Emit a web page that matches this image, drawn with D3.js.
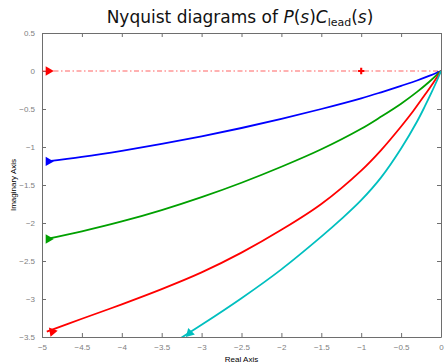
<!DOCTYPE html>
<html>
<head>
<meta charset="utf-8">
<script src="https://cdn.jsdelivr.net/npm/d3@7"></script>
<style>
  body { margin: 0; background: #fff; }
  svg { display: block; }
</style>
</head>
<body>
<div id="main-container"></div>
<script>
// Data: [real, imaginary]
const BLUE = [[0, 0], [-0.15, -0.065], [-0.3, -0.125], [-0.5, -0.195], [-0.75, -0.28], [-1, -0.36], [-1.5, -0.5], [-2, -0.63], [-2.5, -0.75], [-3, -0.86], [-3.5, -0.96], [-4, -1.05], [-4.5, -1.13], [-4.94, -1.19]];
const GREEN = [[0, 0], [-0.15, -0.145], [-0.3, -0.275], [-0.5, -0.43], [-0.75, -0.6], [-1, -0.76], [-1.5, -1.03], [-2, -1.26], [-2.5, -1.47], [-3, -1.66], [-3.5, -1.83], [-4, -1.98], [-4.5, -2.11], [-4.94, -2.21]];
const RED = [[0, 0], [-0.1, -0.16], [-0.2, -0.31], [-0.35, -0.53], [-0.5, -0.73], [-0.75, -1.04], [-1, -1.31], [-1.5, -1.75], [-2, -2.09], [-2.5, -2.39], [-3, -2.65], [-3.5, -2.87], [-4, -3.07], [-4.5, -3.26], [-4.94, -3.43]];
const CYAN = [[0, 0], [-0.05, -0.125], [-0.12, -0.285], [-0.2, -0.46], [-0.3, -0.665], [-0.5, -1.02], [-0.75, -1.4], [-1, -1.7], [-1.25, -1.95], [-1.5, -2.18], [-2, -2.61], [-2.5, -2.99], [-3, -3.34], [-3.3, -3.54]];

const SERIES = [
    { pts: BLUE, color: '#0000ff', arrow: [-4.92, -1.19], angle: 90 },
    { pts: GREEN, color: '#00a000', arrow: [-4.92, -2.21], angle: 90 },
    { pts: RED, color: '#ff0000', arrow: [-4.87, -3.43], angle: 200 },
    { pts: CYAN, color: '#00bfbf', arrow: [-3.15, -3.45], angle: 225 }
];

const X_TICKS = [-5, -4.5, -4, -3.5, -3, -2.5, -2, -1.5, -1, -0.5, 0];
const Y_TICKS = [0.5, 0, -0.5, -1, -1.5, -2, -2.5, -3, -3.5];
const CRITICAL_POINT = [-1, 0];

const WIDTH = 445;
const HEIGHT = 364;
const MARGIN = { top: 33, right: 4, bottom: 27, left: 42 };
const GREY = '#6e6e6e';

const SVG = d3.select('#main-container').append('svg')
    .attr('width', WIDTH)
    .attr('height', HEIGHT);

const X = d3.scaleLinear().domain([-5, 0]).range([MARGIN.left, WIDTH - MARGIN.right]);
const Y = d3.scaleLinear().domain([-3.5, 0.5]).range([HEIGHT - MARGIN.bottom, MARGIN.top]);

const fmt = d => String(d).replace('-', '\u2212');

// Clip
SVG.append('clipPath').attr('id', 'clip')
    .append('rect')
    .attr('x', X(-5)).attr('y', Y(0.5))
    .attr('width', X(0) - X(-5)).attr('height', Y(-3.5) - Y(0.5));

// Axes, ticks inside on all sides
const axisStyle = g => {
    g.select('.domain').attr('stroke', GREY);
    g.selectAll('.tick line').attr('stroke', GREY);
    g.selectAll('.tick text').attr('fill', '#808080')
        .style('font', '8px "Liberation Sans", Arial, sans-serif');
};

SVG.append('g')
    .attr('transform', `translate(0,${Y(-3.5)})`)
    .call(d3.axisBottom(X).tickValues(X_TICKS).tickFormat(fmt).tickSizeInner(-4).tickSizeOuter(0).tickPadding(7))
    .call(axisStyle);
SVG.append('g')
    .attr('transform', `translate(0,${Y(0.5)})`)
    .call(d3.axisTop(X).tickValues(X_TICKS).tickFormat('').tickSizeInner(-4).tickSizeOuter(0))
    .call(axisStyle);
SVG.append('g')
    .attr('transform', `translate(${X(-5)},0)`)
    .call(d3.axisLeft(Y).tickValues(Y_TICKS).tickFormat(fmt).tickSizeInner(-4).tickSizeOuter(0).tickPadding(7))
    .call(axisStyle);
SVG.append('g')
    .attr('transform', `translate(${X(0)},0)`)
    .call(d3.axisRight(Y).tickValues(Y_TICKS).tickFormat('').tickSizeInner(-4).tickSizeOuter(0))
    .call(axisStyle);

const PLOT = SVG.append('g').attr('clip-path', 'url(#clip)');

// Real axis dash-dot line
PLOT.append('line')
    .attr('x1', X(-5)).attr('x2', X(0))
    .attr('y1', Y(0)).attr('y2', Y(0))
    .attr('stroke', '#ff3030')
    .attr('stroke-opacity', 0.75)
    .attr('stroke-width', 1.2)
    .attr('stroke-dasharray', '5,2.5,1.5,2.5');

const line = d3.line().x(d => X(d[0])).y(d => Y(d[1])).curve(d3.curveCatmullRom);

PLOT.selectAll('path.curve')
    .data(SERIES)
    .join('path')
    .attr('class', 'curve')
    .attr('d', d => line(d.pts))
    .attr('fill', 'none')
    .attr('stroke', d => d.color)
    .attr('stroke-width', 1.8);

// Arrow heads
const tri = d3.symbol().type(d3.symbolTriangle).size(38);
PLOT.selectAll('path.arrow')
    .data(SERIES)
    .join('path')
    .attr('class', 'arrow')
    .attr('d', tri)
    .attr('transform', d => `translate(${X(d.arrow[0])},${Y(d.arrow[1])}) rotate(${d.angle})`)
    .attr('fill', d => d.color);

PLOT.append('path')
    .attr('d', tri)
    .attr('transform', `translate(${X(-4.92)},${Y(0)}) rotate(90)`)
    .attr('fill', '#ff0000');

// Critical point marker
PLOT.append('path')
    .attr('d', d3.symbol().type(d3.symbolCross).size(22))
    .attr('transform', `translate(${X(CRITICAL_POINT[0])},${Y(CRITICAL_POINT[1])})`)
    .attr('fill', '#ff0000');

// Title
const TITLE = SVG.append('text')
    .attr('x', 240).attr('y', 23)
    .attr('text-anchor', 'middle')
    .style('font', '17px "DejaVu Sans", sans-serif')
    .attr('fill', '#111');
TITLE.append('tspan').text('Nyquist diagrams of ');
TITLE.append('tspan').style('font-style', 'italic').text('P');
TITLE.append('tspan').text('(');
TITLE.append('tspan').style('font-style', 'italic').text('s');
TITLE.append('tspan').text(')');
TITLE.append('tspan').style('font-style', 'italic').text('C');
TITLE.append('tspan').attr('dy', 3).style('font-size', '11px').text('lead');
TITLE.append('tspan').attr('dy', -3).text('(');
TITLE.append('tspan').style('font-style', 'italic').text('s');
TITLE.append('tspan').text(')');

// Axis labels
SVG.append('text')
    .attr('x', (X(-5) + X(0)) / 2).attr('y', 362)
    .attr('text-anchor', 'middle')
    .style('font', '8px "Liberation Sans", Arial, sans-serif')
    .text('Real Axis');
SVG.append('text')
    .attr('transform', `translate(16,${(Y(0.5) + Y(-3.5)) / 2}) rotate(-90)`)
    .attr('text-anchor', 'middle')
    .style('font', '8px "Liberation Sans", Arial, sans-serif')
    .text('Imaginary Axis');
</script>
</body>
</html>
